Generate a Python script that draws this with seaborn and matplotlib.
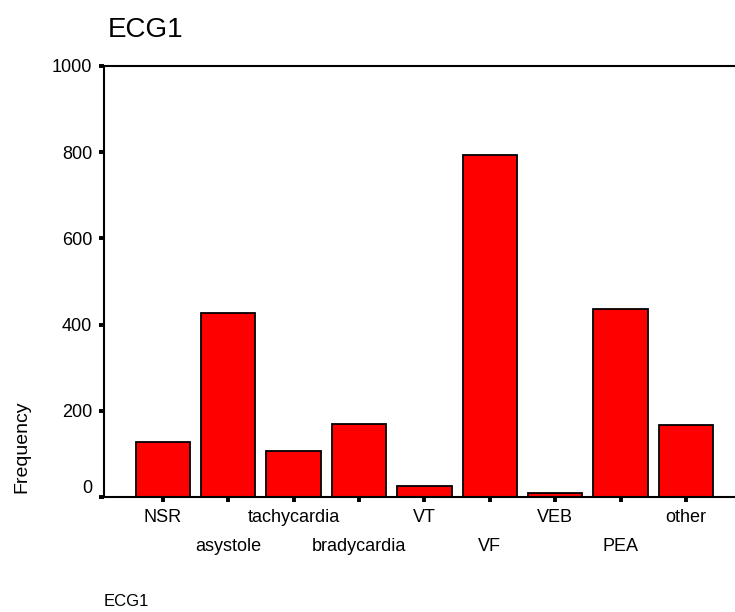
import matplotlib
matplotlib.use("Agg")
import matplotlib.pyplot as plt
import seaborn as sns
import pandas as pd

categories = ["NSR", "asystole", "tachycardia", "bradycardia", "VT", "VF", "VEB", "PEA", "other"]
frequency = [127, 427, 107, 169, 25, 793, 10, 437, 167]
y_ticks = [0, 200, 400, 600, 800, 1000]

sns.set_style("white")
plt.rcParams['font.family'] = ['Liberation Sans', 'DejaVu Sans']
plt.rcParams['text.color'] = 'black'
plt.rcParams['axes.labelcolor'] = 'black'

df = pd.DataFrame({"ECG1": categories, "Frequency": frequency})

fig = plt.figure(figsize=(7.35, 6.12), dpi=100)
ax = fig.add_axes([104 / 735, 115 / 612, 631 / 735, 431 / 612])
sns.barplot(data=df, x="ECG1", y="Frequency", color="red", saturation=1,
            edgecolor="black", linewidth=1.3, width=0.83, ax=ax)

ax.set_xlim(-0.9, 8.75)
ax.set_ylim(0, 1000)
ax.set_yticks(y_ticks)

# spss style frame: no right side
ax.spines['right'].set_visible(False)
for side in ['left', 'top', 'bottom']:
    ax.spines[side].set_color('black')
    ax.spines[side].set_linewidth(1.5)

ax.tick_params(axis='both', direction='out', length=3.5, width=2.8,
               color='black', labelsize=13, labelcolor='black',
               bottom=True, left=True)
ax.tick_params(axis='y', pad=5)

# staggered category labels
for i, tick in enumerate(ax.xaxis.get_major_ticks()):
    tick.set_pad(5 if i % 2 == 0 else 26)

ax.get_yticklabels()[0].set_verticalalignment('bottom')

ax.set_ylabel("Frequency", fontsize=14, va='center')
ax.yaxis.set_label_coords(-0.13, 0.116)
ax.set_xlabel("ECG1", fontsize=12, ha='left', va='center')
ax.xaxis.set_label_coords(0.0, (497 - 602) / 431)

fig.text(108 / 735, 1 - 30 / 612, "ECG1", fontsize=20, va='center', ha='left')

fig.savefig("out.png", dpi=100)
plt.close()
